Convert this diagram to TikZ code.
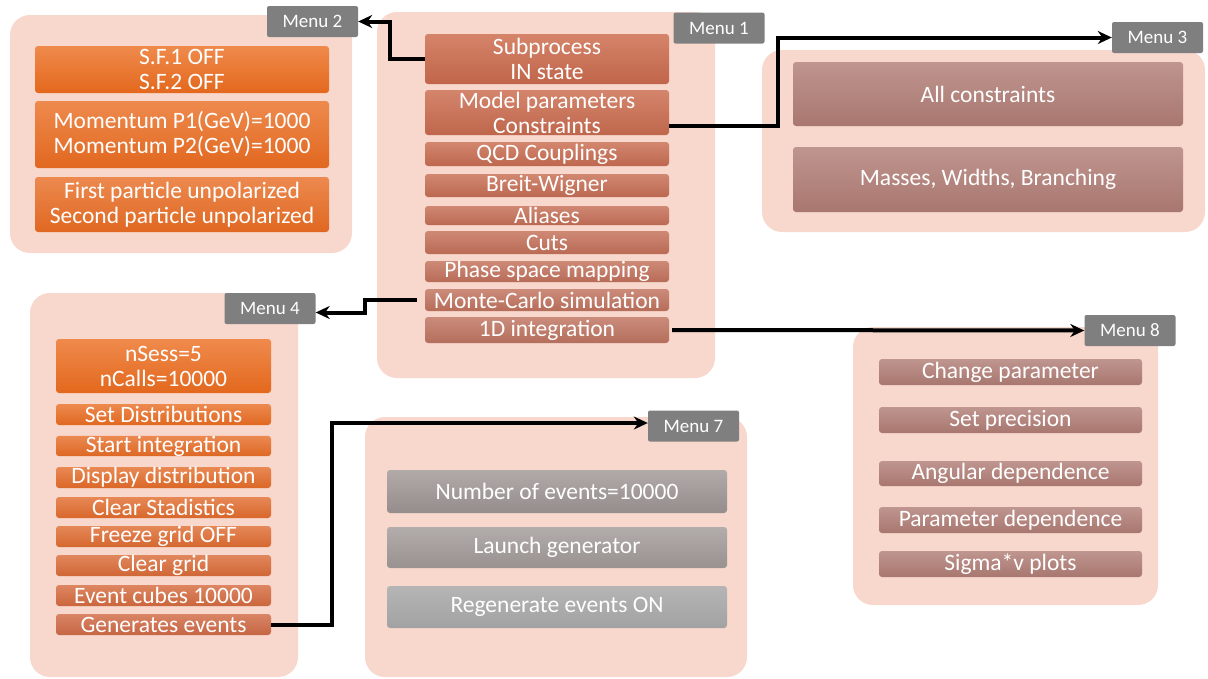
\documentclass[tikz,border=0pt]{standalone}
\usepackage{fontspec}
\setmainfont{Carlito}
\usetikzlibrary{arrows.meta}

\definecolor{panelbg}{HTML}{F8D7CC}
\definecolor{tagfill}{HTML}{7F7F7F}
\definecolor{orT}{HTML}{EF8A4C}
\definecolor{orB}{HTML}{E3681D}
\definecolor{saT}{HTML}{D5846A}
\definecolor{saB}{HTML}{C0654A}
\definecolor{mvT}{HTML}{BF958F}
\definecolor{mvB}{HTML}{A8776F}
\definecolor{gyT}{HTML}{B2AAA8}
\definecolor{gyB}{HTML}{958D8B}
\definecolor{ltT}{HTML}{B5B5B5}
\definecolor{ltB}{HTML}{A2A2A2}

\tikzset{
  oritem/.style={entry, top color=orT!#1!saT, bottom color=orB!#1!saB},
  saitem/.style={entry, top color=saT!#1!mvT, bottom color=saB!#1!mvB},
  gyitem/.style={entry, top color=gyT!#1!ltT, bottom color=gyB!#1!ltB}}

\begin{document}
\begin{tikzpicture}[x=1pt, y=-1pt,
  panel/.style={fill=panelbg, rounded corners=20pt, inner sep=0pt},
  menutag/.style={fill=tagfill, rounded corners=2pt, text=white, font=\fontsize{19}{22}\selectfont, minimum width=91pt, minimum height=31pt, inner sep=0pt},
  entry/.style={rounded corners=3pt, text=white, align=center, font=\fontsize{23.5}{25}\selectfont, inner sep=0pt},
  mvitem/.style={entry, top color=mvT, bottom color=mvB},
  link/.style={-{Stealth[length=14pt, width=13pt]}, line width=4pt}]
  \useasboundingbox (0,0) rectangle (1208,678);

  \node[panel, minimum width=342, minimum height=238] (p2) at (181,134) {};
  \node[panel, minimum width=338, minimum height=366] (p1) at (546,195) {};
  \node[panel, minimum width=443, minimum height=182] (p3) at (983.5,141) {};
  \node[panel, minimum width=268, minimum height=384] (p4) at (164,485) {};
  \node[panel, minimum width=382, minimum height=260] (p7) at (556,547) {};
  \node[panel, minimum width=305, minimum height=278] (p8) at (1005.5,466) {};

  \node[menutag] (m1) at (719,28) {Menu 1};
  \node[menutag] (m2) at (312.5,21.5) {Menu 2};
  \node[menutag] (m3) at (1157.5,37.5) {Menu 3};
  \node[menutag] (m4) at (270,308.5) {Menu 4};
  \node[menutag] (m7) at (693.5,426) {Menu 7};
  \node[menutag] (m8) at (1130,330.5) {Menu 8};

  \node[oritem=100, minimum width=294, minimum height=47] (sf) at (182,69.5) {S.F.1 OFF\\S.F.2 OFF};
  \node[oritem=95, minimum width=294, minimum height=67] (mom) at (182,134.5) {Momentum P1(GeV)=1000\\Momentum P2(GeV)=1000};
  \node[oritem=90, minimum width=294, minimum height=55] (pol) at (182,204.5) {First particle unpolarized\\Second particle unpolarized};

  \node[saitem=100, minimum width=244, minimum height=50] (sub) at (547,59) {Subprocess\\IN state};
  \node[saitem=94, minimum width=244, minimum height=45] (model) at (547,112.5) {Model parameters\\Constraints};
  \node[saitem=88, minimum width=244, minimum height=24] (qcd) at (547,154) {QCD Couplings};
  \node[saitem=82, minimum width=244, minimum height=23] (bw) at (547,185.5) {Breit-Wigner};
  \node[saitem=76, minimum width=244, minimum height=19] (ali) at (547,215.5) {Aliases};
  \node[saitem=70, minimum width=244, minimum height=23] (cuts) at (547,242.5) {Cuts};
  \node[saitem=64, minimum width=244, minimum height=21] (phase) at (547,271.5) {Phase space mapping};
  \node[saitem=58, minimum width=244, minimum height=22] (mc) at (547,300) {Monte-Carlo simulation};
  \node[saitem=52, minimum width=244, minimum height=26] (int) at (547,330) {1D integration};

  \node[mvitem, minimum width=390, minimum height=64] (allc) at (988,94) {All constraints};
  \node[mvitem, minimum width=390, minimum height=65] (mass) at (988,179.5) {Masses, Widths, Branching};

  \node[oritem=100, minimum width=215, minimum height=54] (nsess) at (163.5,366) {nSess=5\\nCalls=10000};
  \node[oritem=92, minimum width=215, minimum height=21] (setd) at (163.5,414.5) {Set Distributions};
  \node[oritem=84, minimum width=215, minimum height=20] (start) at (163.5,446) {Start integration};
  \node[oritem=76, minimum width=215, minimum height=21] (disp) at (163.5,477.5) {Display distribution};
  \node[oritem=68, minimum width=215, minimum height=21] (clrs) at (163.5,507.5) {Clear Stadistics};
  \node[oritem=60, minimum width=215, minimum height=21] (frz) at (163.5,536.5) {Freeze grid OFF};
  \node[oritem=45, minimum width=215, minimum height=21] (clrg) at (163.5,565.5) {Clear grid};
  \node[oritem=30, minimum width=215, minimum height=21] (cube) at (163.5,595.5) {Event cubes 10000};
  \node[oritem=15, minimum width=215, minimum height=21] (gen) at (163.5,624.5) {Generates events};

  \node[gyitem=100, minimum width=340, minimum height=43] (nev) at (557,491.5) {Number of events=10000};
  \node[gyitem=80, minimum width=340, minimum height=41] (lau) at (557,547.5) {Launch generator};
  \node[gyitem=0, minimum width=340, minimum height=42] (reg) at (557,607) {Regenerate events ON};

  \node[mvitem, minimum width=263, minimum height=26] (chg) at (1010.5,372) {Change parameter};
  \node[mvitem, minimum width=263, minimum height=26] (prec) at (1010.5,420) {Set precision};
  \node[mvitem, minimum width=263, minimum height=25] (ang) at (1010.5,473.5) {Angular dependence};
  \node[mvitem, minimum width=263, minimum height=26] (pdep) at (1010.5,520) {Parameter dependence};
  \node[mvitem, minimum width=263, minimum height=26] (sig) at (1010.5,564) {Sigma*v plots};

  \draw[link] (sub.west) -- ++(-35,0) |- (m2.east);
  \draw[link] ([yshift=-13pt]model.east) -- ++(109,0) |- (m3.west);
  \draw[link] ([xshift=-8pt]mc.west) -- ++(-52,0) |- ([yshift=-4pt]m4.east);
  \draw[link] ([xshift=3pt]int.east) -- (m8.west);
  \draw[link] (gen.east) -- ++(61,0) |- ([yshift=3pt]m7.west);
\end{tikzpicture}
\end{document}
